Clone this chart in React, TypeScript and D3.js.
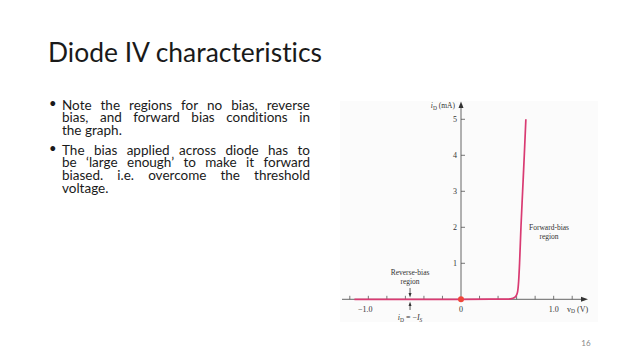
import React, { useEffect, useRef } from "react";
import * as d3 from "d3";

// ---- data ----
const vD = [-1.15, 0.0, 0.5, 0.56, 0.59, 0.61, 0.622, 0.632, 0.647, 0.665, 0.683, 0.7];
const iD = [0, 0, 0.005, 0.03, 0.08, 0.2, 0.5, 1.0, 2.0, 3.0, 4.0, 5.0];
const yTicks = [1, 2, 3, 4, 5];
const xTicks = [-1.2, -1.0, -0.8, -0.6, -0.4, -0.2, 0.2, 0.4, 0.6, 0.8, 1.0, 1.2];
const xTickLabels = [
  { v: -1.0, t: "\u22121.0" },
  { v: 0, t: "0" },
  { v: 1.0, t: "1.0" },
];
const titleText = "Diode IV characteristics";
const bullet1 = ["Note the regions for no bias, reverse", "bias, and forward bias conditions in", "the graph."];
const bullet2 = [
  "The bias applied across diode has to",
  "be \u2018large enough\u2019 to make it forward",
  "biased. i.e. overcome the threshold",
  "voltage.",
];
const pageNumber = "16";

const W = 640;
const H = 360;

export default function App() {
  const textRef = useRef<SVGGElement>(null);

  const x = d3.scaleLinear().domain([-1.2, 1.2]).range([349.8, 572.2]);
  const y = d3.scaleLinear().domain([0, 5]).range([299.3, 119.3]);
  const pts: [number, number][] = vD.map((v, i) => [v, iD[i]]);
  const line = d3
    .line<[number, number]>()
    .x((d) => x(d[0]))
    .y((d) => y(d[1]))
    .curve(d3.curveMonotoneX);

  const textLeft = 62;
  const textRight = 310;
  const fontSize = 13.5;
  const lines: { words: string[]; y: number; justify: boolean }[] = [];
  bullet1.forEach((l, i) =>
    lines.push({ words: l.split(" "), y: 109.5 + i * 12.8, justify: i < bullet1.length - 1 })
  );
  bullet2.forEach((l, i) =>
    lines.push({ words: l.split(" "), y: 154.5 + i * 12.8, justify: i < bullet2.length - 1 })
  );

  useEffect(() => {
    const g = d3.select(textRef.current);
    g.selectAll("*").remove();
    lines.forEach((ln) => {
      const lg = g.append("g");
      const nodes = ln.words.map((w) =>
        lg
          .append("text")
          .attr("y", ln.y)
          .attr("font-family", "Lato, 'Open Sans', sans-serif")
          .attr("font-size", fontSize)
          .attr("fill", "#1a1a1a")
          .text(w)
      );
      const widths = nodes.map((n) => (n.node() as SVGTextElement).getComputedTextLength());
      const sum = widths.reduce((a, b) => a + b, 0);
      const target = textRight - textLeft;
      let scale = 1;
      let gap = fontSize * 0.26;
      if (ln.justify) {
        gap = (target - sum) / (ln.words.length - 1);
        if (gap < 2.5) {
          gap = 2.5;
          scale = (target - gap * (ln.words.length - 1)) / sum;
        }
      }
      let cx = textLeft;
      nodes.forEach((n, i) => {
        const w = widths[i] * scale;
        n.attr("x", cx);
        if (scale !== 1) n.attr("textLength", w).attr("lengthAdjust", "spacingAndGlyphs");
        cx += w + gap;
      });
    });
  }, []);

  const serif = "'Liberation Serif', 'DejaVu Serif', serif";
  const axisColor = "#555";
  const curveColor = "#d93a72";
  const arrowX = x(-0.55);

  return (
    <svg
      width={W}
      height={H}
      viewBox={`0 0 ${W} ${H}`}
      style={{ position: "absolute", left: 0, top: 0, background: "#fff" }}
    >
      <rect x={0} y={0} width={W} height={H} fill="#ffffff" />
      {/* title */}
      <text
        x={48}
        y={62}
        fontFamily="Lato, 'Open Sans', sans-serif"
        fontSize={27}
        fill="#1a1a1a"
        textLength={274}
        lengthAdjust="spacingAndGlyphs"
        style={{ fontVariantLigatures: "none" }}
      >
        {titleText}
      </text>
      {/* bullets */}
      <text x={49} y={108} fontFamily="Lato, sans-serif" fontSize={13} fill="#1a1a1a">
        {"\u2022"}
      </text>
      <text x={49} y={153} fontFamily="Lato, sans-serif" fontSize={13} fill="#1a1a1a">
        {"\u2022"}
      </text>
      <g ref={textRef} style={{ fontVariantLigatures: "none" }} />

      {/* figure box */}
      <rect x={340} y={101} width={258} height={221} fill="#fbfbfb" />

      {/* x axis */}
      <line x1={342} x2={584} y1={y(0)} y2={y(0)} stroke={axisColor} strokeWidth={0.9} />
      <path d={`M588,${y(0)} L581,${y(0) - 2.5} L581,${y(0) + 2.5} Z`} fill="#333" />
      {xTicks.map((t) => (
        <line key={t} x1={x(t)} x2={x(t)} y1={y(0)} y2={y(0) - 3.5} stroke={axisColor} strokeWidth={0.8} />
      ))}
      {xTickLabels.map((d) => (
        <text
          key={d.t}
          x={x(d.v) + (d.v < 0 ? -3 : 0)}
          y={311.5}
          textAnchor="middle"
          fontFamily={serif}
          fontSize={8}
          fill="#333"
        >
          {d.t}
        </text>
      ))}
      <text x={567} y={311.5} fontFamily={serif} fontSize={8} fill="#333">
        v<tspan fontSize={5.5} dy={1.5}>D</tspan>
        <tspan dy={-1.5}> (V)</tspan>
      </text>

      {/* y axis */}
      <line x1={x(0)} x2={x(0)} y1={y(0)} y2={106} stroke={axisColor} strokeWidth={0.9} />
      <path d={`M${x(0)},101.5 L${x(0) - 2.5},108 L${x(0) + 2.5},108 Z`} fill="#333" />
      {yTicks.map((t) => (
        <g key={t}>
          <line x1={x(0)} x2={x(0) + 4} y1={y(t)} y2={y(t)} stroke={axisColor} strokeWidth={0.8} />
          <text x={x(0) - 4} y={y(t) + 2.8} textAnchor="end" fontFamily={serif} fontSize={8} fill="#333">
            {t}
          </text>
        </g>
      ))}
      <text x={455} y={108} textAnchor="end" fontFamily={serif} fontSize={7.5} fill="#333">
        <tspan fontStyle="italic">i</tspan>
        <tspan fontSize={5.5} dy={1.5}>D</tspan>
        <tspan dy={-1.5}> (mA)</tspan>
      </text>

      {/* curve */}
      <path d={line(pts) || ""} fill="none" stroke={curveColor} strokeWidth={1.7} />
      <circle cx={x(0)} cy={y(0)} r={3} fill="#f0463a" />

      {/* reverse-bias annotation */}
      <text x={arrowX} y={275} textAnchor="middle" fontFamily={serif} fontSize={7.5} fill="#333">
        Reverse-bias
      </text>
      <text x={arrowX} y={284} textAnchor="middle" fontFamily={serif} fontSize={7.5} fill="#333">
        region
      </text>
      <line x1={arrowX} x2={arrowX} y1={288} y2={294} stroke="#333" strokeWidth={0.8} />
      <path d={`M${arrowX},297.5 L${arrowX - 1.5},293 L${arrowX + 1.5},293 Z`} fill="#333" />
      <line x1={arrowX} x2={arrowX} y1={310} y2={304.5} stroke="#333" strokeWidth={0.8} />
      <path d={`M${arrowX},301.5 L${arrowX - 1.5},306 L${arrowX + 1.5},306 Z`} fill="#333" />
      <text x={arrowX} y={320} textAnchor="middle" fontFamily={serif} fontSize={8} fill="#333">
        <tspan fontStyle="italic">i</tspan>
        <tspan fontSize={5.5} dy={1.5}>D</tspan>
        <tspan dy={-1.5}>{" = \u2212"}</tspan>
        <tspan fontStyle="italic">I</tspan>
        <tspan fontSize={5.5} fontStyle="italic" dy={1.5}>S</tspan>
      </text>

      {/* forward-bias annotation */}
      <text x={549} y={230} textAnchor="middle" fontFamily={serif} fontSize={7.5} fill="#333">
        Forward-bias
      </text>
      <text x={549} y={239} textAnchor="middle" fontFamily={serif} fontSize={7.5} fill="#333">
        region
      </text>

      {/* page number */}
      <text x={586} y={346} textAnchor="middle" fontFamily="Lato, sans-serif" fontSize={8} fill="#888">
        {pageNumber}
      </text>
    </svg>
  );
}
